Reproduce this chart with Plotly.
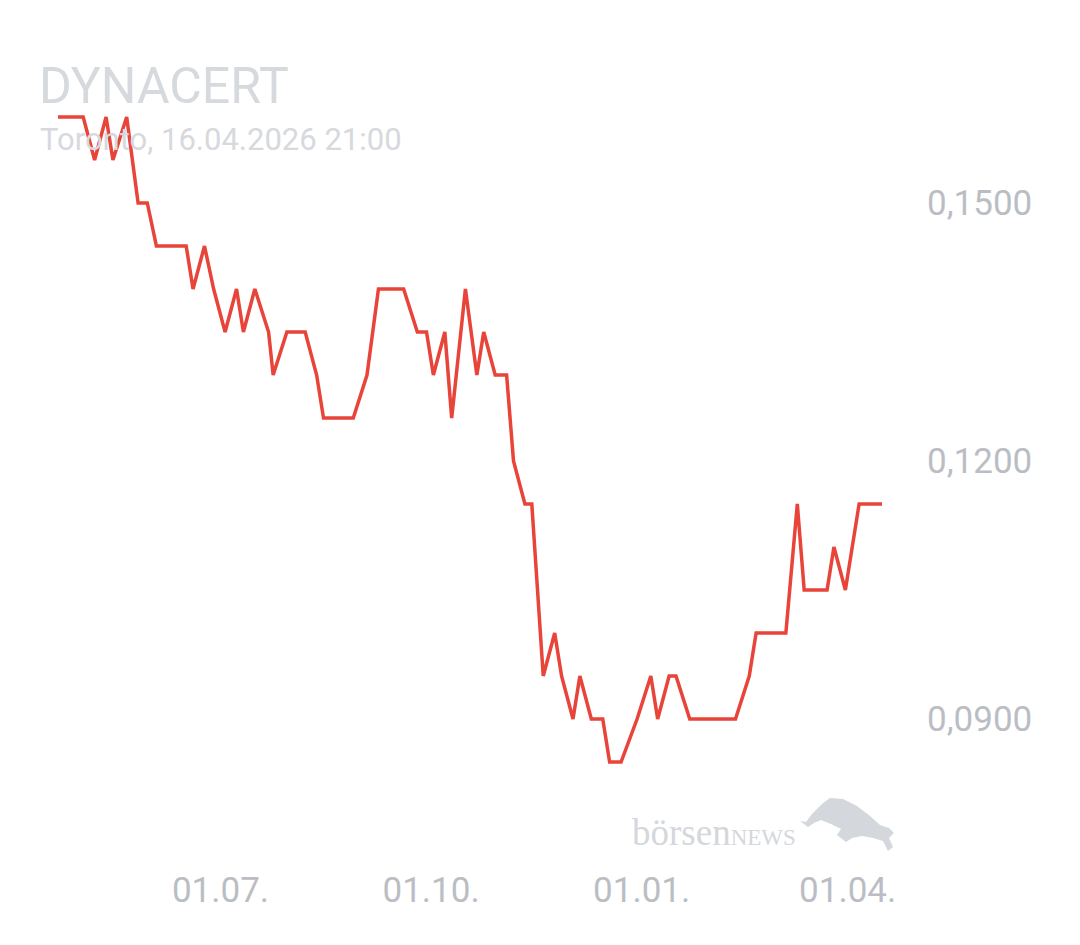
import plotly.graph_objects as go

# ---- data ----
dates = [
    "2025-04-21", "2025-05-02", "2025-05-07", "2025-05-12", "2025-05-15", "2025-05-21",
    "2025-05-26", "2025-05-30", "2025-06-03", "2025-06-16", "2025-06-19", "2025-06-24",
    "2025-06-28", "2025-07-03", "2025-07-08", "2025-07-11", "2025-07-16", "2025-07-22",
    "2025-07-24", "2025-07-30", "2025-08-07", "2025-08-12", "2025-08-15", "2025-08-28",
    "2025-09-03", "2025-09-08", "2025-09-19", "2025-09-25", "2025-09-29", "2025-10-02",
    "2025-10-07", "2025-10-10", "2025-10-16", "2025-10-21", "2025-10-24", "2025-10-29",
    "2025-11-03", "2025-11-06", "2025-11-11", "2025-11-14", "2025-11-19", "2025-11-24",
    "2025-11-27", "2025-12-02", "2025-12-05", "2025-12-10", "2025-12-15", "2025-12-18",
    "2025-12-23", "2025-12-30", "2026-01-05", "2026-01-08", "2026-01-13", "2026-01-16",
    "2026-01-22", "2026-02-11", "2026-02-17", "2026-02-20", "2026-03-05", "2026-03-10",
    "2026-03-13", "2026-03-23", "2026-03-26", "2026-03-31", "2026-04-06", "2026-04-16",
]
prices = [
    0.160, 0.160, 0.155, 0.160, 0.155, 0.160,
    0.150, 0.150, 0.145, 0.145, 0.140, 0.145,
    0.140, 0.135, 0.140, 0.135, 0.140, 0.135,
    0.130, 0.135, 0.135, 0.130, 0.125, 0.125,
    0.130, 0.140, 0.140, 0.135, 0.135, 0.130,
    0.135, 0.125, 0.140, 0.130, 0.135, 0.130,
    0.130, 0.120, 0.115, 0.115, 0.095, 0.100,
    0.095, 0.090, 0.095, 0.090, 0.090, 0.085,
    0.085, 0.090, 0.095, 0.090, 0.095, 0.095,
    0.090, 0.090, 0.095, 0.100, 0.100, 0.115,
    0.105, 0.105, 0.110, 0.105, 0.115, 0.115,
]
y_ticks = [0.09, 0.12, 0.15]
x_ticks = ["2025-07-01", "2025-10-01", "2026-01-01", "2026-04-01"]
title_text = "DYNACERT"
subtitle_text = "Toronto, 16.04.2026 21:00"

# ---- layout geometry (pixels) ----
W, H = 1080, 945
L, R, T, B = 58, 882, 100, 860
PX_PER_UNIT = 8600.0
y_max = 0.15 + (203 - T) / PX_PER_UNIT
y_min = 0.09 - (B - 719) / PX_PER_UNIT


def pxx(x):
    return (x - L) / (R - L)


def pxy(y):
    return (B - y) / (B - T)


fig = go.Figure()
fig.add_trace(go.Scatter(
    x=dates, y=prices, mode="lines",
    line=dict(color="#e8443a", width=3.5),
    hoverinfo="skip", showlegend=False,
))

tick_font = dict(family="Roboto", size=35, color="#babec4")

fig.update_layout(
    width=W, height=H,
    margin=dict(l=L, r=W - R, t=T, b=H - B, pad=0),
    paper_bgcolor="white", plot_bgcolor="white",
    separators=",.",
    showlegend=False,
    xaxis=dict(
        range=[dates[0], dates[-1]],
        tickvals=x_ticks, tickformat="%d.%m.",
        showgrid=False, zeroline=False, showline=False,
        ticks="", tickfont=tick_font, ticklabelstandoff=6,
        fixedrange=True,
    ),
    yaxis=dict(
        range=[y_min, y_max], side="right",
        tickvals=y_ticks, tickformat=".4f",
        showgrid=False, zeroline=False, showline=False,
        ticks="", tickfont=tick_font, ticklabelstandoff=44,
        fixedrange=True,
    ),
)

fig.add_annotation(
    text=title_text, xref="paper", yref="paper",
    x=pxx(37), y=pxy(86), xanchor="left", yanchor="middle",
    showarrow=False, font=dict(family="Roboto", size=50, color="#d6d9dd"),
)
fig.add_annotation(
    text=subtitle_text, xref="paper", yref="paper",
    x=pxx(38), y=pxy(139), xanchor="left", yanchor="middle",
    showarrow=False, font=dict(family="Roboto", size=31, color="#d6d9dd"),
)

# watermark text
fig.add_annotation(
    text="börsen<span style='font-size:23px'>NEWS</span>", xref="paper", yref="paper",
    x=pxx(630), y=pxy(832), xanchor="left", yanchor="middle",
    showarrow=False, font=dict(family="Liberation Serif", size=37, color="#d4d7db"),
)

# watermark bull logo (decorative)
bull = [(800, 821), (806, 822), (812, 814), (822, 804), (830, 798), (843, 799), (857, 806),
        (870, 816), (880, 825), (889, 828), (894, 833), (889, 838), (893, 847),
        (888, 851), (883, 841), (873, 838), (862, 836), (852, 838), (846, 842),
        (837, 835), (841, 829), (831, 824), (821, 820), (814, 823), (808, 827)]
path = "M " + " L ".join(f"{pxx(a):.5f},{pxy(b):.5f}" for a, b in bull) + " Z"
fig.add_shape(type="path", path=path, xref="paper", yref="paper",
              fillcolor="#d4d7db", line=dict(width=0), layer="below")

fig.write_html("out.html", config={"displayModeBar": False},
               post_script="document.body.style.margin='0';")
